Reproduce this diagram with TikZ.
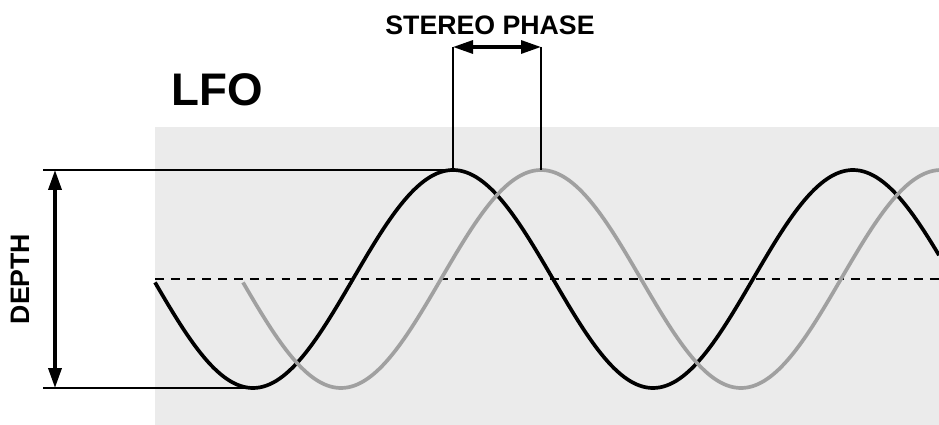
\documentclass[tikz,border=0pt]{standalone}
\usepackage{fontspec}
\setmainfont{Liberation Sans}
\usetikzlibrary{arrows.meta}
\definecolor{panelgray}{HTML}{EBEBEB}
\definecolor{wavegray}{HTML}{A0A0A0}
\tikzset{
  wave/.style={line width=2.1pt},
  guide/.style={line width=0.9pt},
  label/.style={font=\bfseries\fontsize{15.2}{17}\selectfont},
  dim/.style={{Triangle[length=0.4cm,width=0.26cm]}-{Triangle[length=0.4cm,width=0.26cm]}}
}
\begin{document}
\begin{tikzpicture}[x=0.02cm,y=-0.02cm]
  \useasboundingbox (0,0) rectangle (939,425);
  \fill[panelgray] (155,127) rectangle (939,425);
  \coordinate (L) at (155,279);
  \coordinate (R) at (939,279);
  \coordinate (PB) at (453,170);
  \coordinate (PG) at (541,170);
  \coordinate (MB) at (253,388);
  \draw[guide,dash pattern=on 5pt off 4pt] (L) -- (R);
  \draw[wave] plot[domain=155:939,samples=240] (\x,{279-109*cos(0.9*(\x-453))});
  \draw[wave,wavegray] plot[domain=243:939,samples=240] (\x,{279-109*cos(0.9*(\x-541))});
  % depth marks
  \coordinate (DT) at (43,170);
  \coordinate (DB) at (43,388);
  \draw[guide] (DT) -- (PB);
  \draw[guide] (DB) -- (MB);
  \draw[dim,line width=2pt] (55,170) -- (55,388);
  \node[label,rotate=90] (depth) at (20,279) {DEPTH};
  % stereo phase
  \coordinate (SB) at (453,47);
  \coordinate (SG) at (541,47);
  \draw[guide] (SB) -- (PB);
  \draw[guide] (SG) -- (PG);
  \draw[dim,line width=1.8pt] (SB) -- (SG);
  \node[label] (phase) at (490,25) {STEREO PHASE};
  \node[font=\bfseries\fontsize{26}{30}\selectfont] (lfo) at (217,90) {LFO};
\end{tikzpicture}
\end{document}
